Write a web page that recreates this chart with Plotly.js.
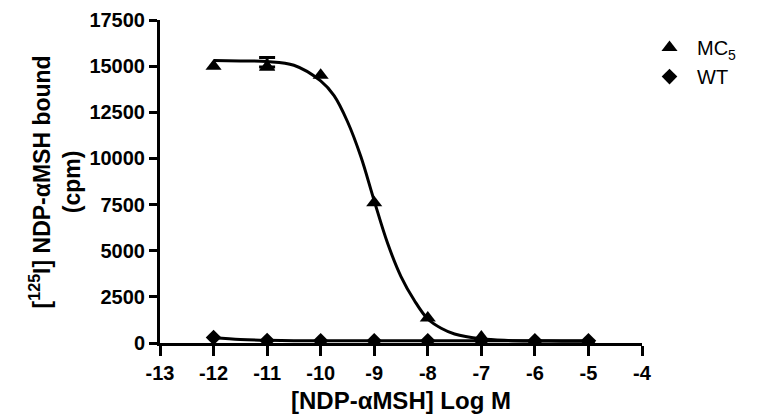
<!DOCTYPE html>
<html>
<head>
<meta charset="utf-8">
<script src="https://cdn.plot.ly/plotly-3.0.1.min.js"></script>
<style>html,body{margin:0;padding:0;background:#fff;}#chart{width:782px;height:420px;}</style>
</head>
<body>
<div id="chart"></div>
<script>
// Measured points
const logConc = [-12, -11, -10, -9, -8, -7, -6, -5];
const mc5Values = [15000, 14950, 14500, 7600, 1350, 330, 110, 100];
const wtValues = [300, 130, 120, 120, 120, 120, 120, 120];
// Error bar (SEM) seen only at -11
const errX = [-11];
const errY = [14950];
const errPlus = [520];

// Fitted curves
const curveX = [-12, -11.5, -11, -10.5, -10, -9.75, -9.5, -9.25, -9, -8.75, -8.5, -8.25, -8, -7.75, -7.5, -7, -6.5, -6, -5.5, -5];
const mc5Curve = [15300, 15280, 15250, 15050, 14200, 13400, 12000, 10100, 7700, 5400, 3600, 2300, 1300, 800, 490, 230, 140, 110, 100, 100];
const wtCurve = [280, 190, 145, 125, 120, 120, 120, 120, 120, 120, 120, 120, 120, 120, 120, 120, 120, 120, 120, 120];

const xTicks = [-13, -12, -11, -10, -9, -8, -7, -6, -5, -4];
const yTicks = [0, 2500, 5000, 7500, 10000, 12500, 15000, 17500];

const xTitle = '[NDP-αMSH] Log M';
const yTitle = '[<sup>125</sup>I] NDP-αMSH bound<br>(cpm)';

const fontFam = 'Arial, Liberation Sans, sans-serif';
const boldFont = (s) => ({size: s, family: fontFam, color: '#000', weight: 700});

const traces = [
  {x: curveX, y: mc5Curve, mode: 'lines', line: {color: '#000', width: 3, shape: 'spline', smoothing: 1}, showlegend: false, hoverinfo: 'skip'},
  {x: curveX, y: wtCurve, mode: 'lines', line: {color: '#000', width: 3, shape: 'spline', smoothing: 1}, showlegend: false, hoverinfo: 'skip'},
  {x: errX, y: errY, mode: 'markers', showlegend: false, hoverinfo: 'skip',
   marker: {symbol: 'triangle-up', size: 14, color: '#000'},
   error_y: {type: 'data', array: errPlus, arrayminus: [0], symmetric: false, color: '#000', thickness: 3, width: 8}},
  {x: logConc, y: mc5Values, mode: 'markers', name: 'MC<sub>5</sub>',
   marker: {symbol: 'triangle-up', size: 14, color: '#000'}},
  {x: logConc, y: wtValues, mode: 'markers', name: 'WT',
   marker: {symbol: 'diamond', size: 12, color: '#000'}}
];

const layout = {
  width: 782, height: 420,
  margin: {l: 160, r: 140, t: 20, b: 77},
  paper_bgcolor: '#fff', plot_bgcolor: '#fff',
  font: {family: fontFam, color: '#000'},
  showlegend: true,
  legend: {x: 1.0, y: 0.975, xanchor: 'left', yanchor: 'top', font: {size: 20, family: fontFam, color: '#000'}, tracegroupgap: 0, itemwidth: 45},
  xaxis: {
    range: [-13, -4], tickvals: xTicks, ticktext: xTicks.map(v => '<b>' + v + '</b>'),
    showgrid: false, zeroline: false, showline: true, linecolor: '#000', linewidth: 3,
    ticks: 'outside', ticklen: 10, tickwidth: 3, tickcolor: '#000',
    tickfont: boldFont(20),
    title: {text: '<b>' + xTitle + '</b>', font: boldFont(24), standoff: 10}
  },
  yaxis: {
    range: [0, 17500], tickvals: yTicks, ticktext: yTicks.map(v => '<b>' + v + '</b>'),
    showgrid: false, zeroline: false, showline: true, linecolor: '#000', linewidth: 3,
    ticks: 'outside', ticklen: 8, tickwidth: 3, tickcolor: '#000',
    tickfont: boldFont(20)
  },
  annotations: [{
    text: '<b>' + yTitle + '</b>', textangle: -90, showarrow: false,
    xref: 'paper', yref: 'paper', x: -0.218, y: 0.5, xanchor: 'center', yanchor: 'middle',
    font: boldFont(23)
  }]
};

Plotly.newPlot('chart', traces, layout, {displayModeBar: false, staticPlot: true});
</script>
</body>
</html>
